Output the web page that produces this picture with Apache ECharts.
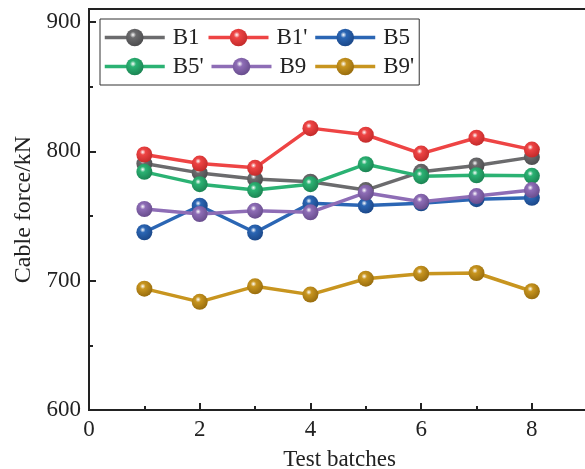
<!DOCTYPE html>
<html>
<head>
<meta charset="utf-8">
<script src="https://cdn.jsdelivr.net/npm/echarts@6/dist/echarts.min.js"></script>
<style>html,body{margin:0;padding:0;background:#fff}#c{width:585px;height:469px}</style>
</head>
<body>
<div id="c"></div>
<script>
const batches = [1, 2, 3, 4, 5, 6, 7, 8];
const B1  = [790.5, 783.3, 778.5, 776.5, 770.0, 784.1, 789.0, 795.5];
const B1p = [797.5, 790.5, 787.2, 817.9, 812.8, 798.2, 810.5, 801.3];
const B5  = [737.4, 757.9, 737.2, 759.8, 758.0, 759.8, 763.0, 764.0];
const B5p = [784.1, 774.6, 770.0, 774.6, 790.0, 780.8, 781.5, 781.0];
const B9  = [755.4, 751.5, 754.1, 752.8, 768.0, 761.0, 765.4, 770.0];
const B9p = [693.8, 683.6, 695.6, 689.2, 701.5, 705.4, 705.9, 691.8];
const names = ["B1", "B1'", "B5", "B5'", "B9", "B9'"];
const values = [B1, B1p, B5, B5p, B9, B9p];
const colors = ['#6b6b6d', '#ee4444', '#2b66b4', '#2bb273', '#8e6db6', '#c8951f'];
const darks  = ['#4a4a4c', '#c02828', '#1a4585', '#1a8050', '#654a8a', '#94690c'];

const FONT = 'Liberation Serif';
function sphere(i) {
  return {
    type: 'radial', x: 0.4, y: 0.35, r: 0.7,
    colorStops: [
      { offset: 0, color: '#ffffff' },
      { offset: 0.25, color: colors[i] },
      { offset: 1, color: darks[i] }
    ]
  };
}

const series = names.map((n, i) => ({
  name: n,
  type: 'line',
  xAxisIndex: 0, yAxisIndex: 0,
  data: batches.map((b, j) => [b, values[i][j]]),
  symbol: 'circle',
  symbolSize: 16,
  lineStyle: { color: colors[i], width: 3.5 },
  itemStyle: { color: sphere(i), borderWidth: 0 },
  emphasis: { disabled: true },
  animation: false,
  z: 2 + i
}));

const chart = echarts.init(document.getElementById('c'), null, { renderer: 'canvas' });
chart.setOption({
  backgroundColor: '#fff',
  animation: false,
  grid: { left: 89, top: 9, right: -5, bottom: 59, outerBoundsMode: 'none', containLabel: false, show: true, borderColor: '#222', borderWidth: 2, backgroundColor: 'transparent' },
  legend: {
    data: names,
    left: 100, top: 19,
    width: 322,
    orient: 'horizontal',
    padding: [7, 5, 7, 3],
    itemGap: 6,
    itemWidth: 60,
    itemHeight: 22,
    lineStyle: { width: 3.5 },
    borderColor: '#333',
    borderWidth: 1,
    backgroundColor: '#fff',
    textStyle: { fontFamily: FONT, fontSize: 23, color: '#222', width: 28, lineHeight: 23, padding: [0, 0, 0, 3], overflow: 'none' }
  },
  xAxis: [{
    type: 'value', min: 0, max: 9.05, interval: 2,
    name: 'Test batches', nameLocation: 'middle', nameGap: 38,
    nameTextStyle: { fontFamily: FONT, fontSize: 23, color: '#222' },
    axisLine: { show: true, lineStyle: { color: '#222', width: 2 } },
    axisTick: { show: true, inside: true, length: 7, lineStyle: { color: '#222', width: 2 } },
    axisLabel: { fontFamily: FONT, fontSize: 23, color: '#222', margin: 8, formatter: v => (v % 2 === 0 ? String(v) : '') },
    splitLine: { show: false }
  }, {
    type: 'value', min: 0, max: 9.05, interval: 1, position: 'bottom',
    axisLine: { show: false },
    axisTick: { show: true, inside: true, length: 4, lineStyle: { color: '#222', width: 2 } },
    axisLabel: { show: false },
    splitLine: { show: false }
  }],
  yAxis: [{
    type: 'value', min: 600, max: 910, interval: 100,
    name: 'Cable force/kN', nameLocation: 'middle', nameGap: 53,
    nameTextStyle: { fontFamily: FONT, fontSize: 24, color: '#222' },
    axisLine: { show: true, lineStyle: { color: '#222', width: 2 } },
    axisTick: { show: true, inside: true, length: 7, lineStyle: { color: '#222', width: 2 } },
    axisLabel: { fontFamily: FONT, fontSize: 23, color: '#222', margin: 8, formatter: v => (v % 100 === 0 ? String(v) : '') },
    splitLine: { show: false }
  }, {
    type: 'value', min: 600, max: 910, interval: 50, position: 'left',
    axisLine: { show: false },
    axisTick: { show: true, inside: true, length: 4, lineStyle: { color: '#222', width: 2 } },
    axisLabel: { show: false },
    splitLine: { show: false }
  }],
  series: series
});
</script>
</body>
</html>
